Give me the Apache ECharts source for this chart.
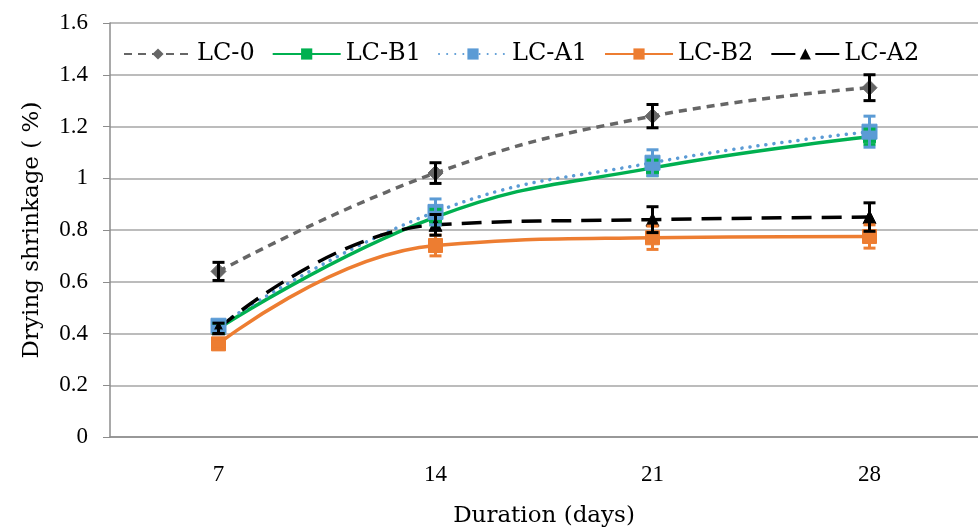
<!DOCTYPE html>
<html>
<head>
<meta charset="utf-8">
<script src="https://cdn.jsdelivr.net/npm/echarts@6/dist/echarts.min.js"></script>
<style>
  html, body { margin: 0; padding: 0; background: #fff; }
  #chart { width: 978px; height: 528px; }
</style>
</head>
<body>
<div id="chart"></div>
<script>
  // days
  const durations = ['7', '14', '21', '28'];

  // drying shrinkage (%)
  const lc0 = [0.64, 1.02, 1.24, 1.35];
  const lcB1 = [0.42, 0.85, 1.04, 1.16];
  const lcA1 = [0.43, 0.87, 1.06, 1.18];
  const lcB2 = [0.36, 0.74, 0.77, 0.775];
  const lcA2 = [0.42, 0.82, 0.84, 0.85];

  // +/- error
  const lc0Err = [0.035, 0.04, 0.045, 0.05];
  const lcB1Err = [0.02, 0.03, 0.03, 0.03];
  const lcA1Err = [0.02, 0.05, 0.05, 0.06];
  const lcB2Err = [0.02, 0.04, 0.045, 0.045];
  const lcA2Err = [0.02, 0.04, 0.05, 0.055];

  const font = '"DejaVu Serif", "Liberation Serif", serif';
  const tickFont = '"Liberation Serif", serif';

  const chart = echarts.init(document.getElementById('chart'));

  function errData(vals, errs) {
    let out = [];
    for (let i = 0; i < vals.length; i++) {
      out.push([i, vals[i] - errs[i], vals[i] + errs[i]]);
    }
    return out;
  }

  function errSeries(vals, errs, color) {
    return {
      type: 'custom',
      z: 5,
      silent: true,
      data: errData(vals, errs),
      renderItem: function (params, api) {
        const lo = api.coord([api.value(0), api.value(1)]);
        const hi = api.coord([api.value(0), api.value(2)]);
        const w = 6;
        const st = { stroke: color, lineWidth: 3 };
        return {
          type: 'group',
          children: [
            { type: 'line', shape: { x1: lo[0], y1: lo[1], x2: hi[0], y2: hi[1] }, style: st },
            { type: 'line', shape: { x1: lo[0] - w, y1: lo[1], x2: lo[0] + w, y2: lo[1] }, style: st },
            { type: 'line', shape: { x1: hi[0] - w, y1: hi[1], x2: hi[0] + w, y2: hi[1] }, style: st }
          ]
        };
      }
    };
  }

  function lineSeries(name, vals, color, type, symbol, size, width, cap) {
    return {
      name: name,
      type: 'line',
      smooth: 0.45,
      z: 3,
      data: vals,
      symbol: symbol,
      symbolSize: size,
      showAllSymbol: true,
      lineStyle: { color: color, width: width, type: type, cap: cap || 'butt' },
      itemStyle: { color: color, borderColor: color },
      emphasis: { disabled: true }
    };
  }

  const tickRich = { t: { fontFamily: tickFont, fontSize: 23, color: '#000' } };

  const option = {
    animation: false,
    textStyle: { fontFamily: font },
    grid: { left: 110, right: 0, top: 23, bottom: 91, outerBoundsMode: 'none' },
    legend: {
      data: [
        'LC-0', 'LC-B1', 'LC-A1', 'LC-B2',
        { name: 'LC-A2', lineStyle: { type: [24, 20] } }
      ],
      left: 123,
      top: 42,
      itemWidth: 68,
      itemHeight: 14,
      itemGap: 17,
      padding: 0,
      textStyle: { fontFamily: font, fontSize: 24, color: '#000' }
    },
    xAxis: {
      type: 'category',
      data: durations,
      boundaryGap: true,
      name: 'Duration (days)',
      nameLocation: 'middle',
      nameGap: 68,
      nameTextStyle: { fontFamily: font, fontSize: 23, color: '#000' },
      axisLine: { lineStyle: { color: '#8c8c8c', width: 1.5 } },
      axisTick: { show: false },
      axisLabel: {
        fontFamily: tickFont, fontSize: 23, color: '#000', margin: 26,
        formatter: function (v) { return '{t|' + v + '}'; },
        rich: tickRich
      }
    },
    yAxis: {
      type: 'value',
      min: 0,
      max: 1.6,
      interval: 0.2,
      name: 'Drying shrinkage ( %)',
      nameLocation: 'middle',
      nameGap: 66,
      nameTextStyle: { fontFamily: font, fontSize: 23, color: '#000' },
      axisLine: { show: true, lineStyle: { color: '#8c8c8c', width: 1.5 } },
      axisTick: { show: true, length: 7, lineStyle: { color: '#8c8c8c' } },
      axisLabel: {
        fontFamily: tickFont, fontSize: 23, color: '#000', margin: 22,
        formatter: function (v) { return '{t|' + (Math.round(v * 10) / 10) + '}'; },
        rich: tickRich
      },
      splitLine: { lineStyle: { color: '#a6a6a6', width: 1.5 } }
    },
    series: [
      lineSeries('LC-0', lc0, '#666666', [8, 6], 'diamond', 15, 3.5),
      lineSeries('LC-B1', lcB1, '#00b050', 'solid', 'rect', 12, 3.5),
      lineSeries('LC-A1', lcA1, '#5b9bd5', [0.1, 8], 'rect', 15, 3.5, 'round'),
      lineSeries('LC-B2', lcB2, '#ed7d31', 'solid', 'rect', 14, 3.5),
      lineSeries('LC-A2', lcA2, '#000000', [20, 10], 'triangle', 13, 3.5),
      errSeries(lc0, lc0Err, '#000000'),
      errSeries(lcB1, lcB1Err, '#00b050'),
      errSeries(lcA1, lcA1Err, '#5b9bd5'),
      errSeries(lcB2, lcB2Err, '#ed7d31'),
      errSeries(lcA2, lcA2Err, '#000000')
    ]
  };

  chart.setOption(option);
  window.addEventListener('resize', function () {
    chart.resize();
  });
</script>
</body>
</html>
